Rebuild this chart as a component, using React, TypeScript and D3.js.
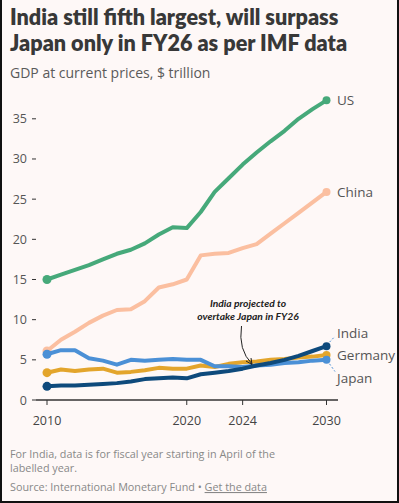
import React from "react";
import { scaleLinear, line } from "d3";

const years = [2010, 2011, 2012, 2013, 2014, 2015, 2016, 2017, 2018, 2019, 2020,
  2021, 2022, 2023, 2024, 2025, 2026, 2027, 2028, 2029, 2030];

const us = [15.0, 15.6, 16.2, 16.8, 17.5, 18.2, 18.7, 19.5, 20.6, 21.5, 21.4,
  23.4, 25.9, 27.6, 29.3, 30.8, 32.2, 33.5, 35.0, 36.2, 37.3];
const china = [6.1, 7.5, 8.5, 9.6, 10.5, 11.2, 11.3, 12.3, 14.0, 14.4, 15.0,
  18.0, 18.2, 18.3, 18.9, 19.4, 20.7, 22.0, 23.3, 24.6, 25.9];
const japan = [5.7, 6.2, 6.2, 5.2, 4.9, 4.4, 5.0, 4.9, 5.0, 5.1, 5.0,
  5.0, 4.2, 4.2, 4.1, 4.3, 4.4, 4.6, 4.7, 4.9, 5.0];
const germany = [3.4, 3.8, 3.6, 3.8, 3.9, 3.4, 3.5, 3.7, 4.0, 3.9, 3.9,
  4.3, 4.1, 4.5, 4.7, 4.8, 5.0, 5.1, 5.3, 5.4, 5.6];
const india = [1.7, 1.8, 1.8, 1.9, 2.0, 2.1, 2.3, 2.6, 2.7, 2.8, 2.7,
  3.2, 3.4, 3.6, 3.9, 4.3, 4.6, 5.0, 5.5, 6.1, 6.7];

const yTicks = [0, 5, 10, 15, 20, 25, 30, 35];
const xTicks = [2010, 2020, 2024, 2030];

const series = [
  { name: "China", values: china, color: "#fbbfa0", labelY: 25.9 },
  { name: "US", values: us, color: "#46a97a", labelY: 37.3 },
  { name: "Germany", values: germany, color: "#e3a52c", labelY: 5.6 },
  { name: "Japan", values: japan, color: "#4b90d6", labelY: 2.8 },
  { name: "India", values: india, color: "#0e4a7c", labelY: 8.3 },
];

const W = 399, H = 503;

export default function App() {
  const x = scaleLinear().domain([2010, 2030]).range([47, 326.5]);
  const y = scaleLinear().domain([0, 35]).range([400, 118.8]);
  const font = "'Open Sans', sans-serif";
  const mk = (vals: number[]) =>
    line<number>().x((_, i) => x(years[i])).y(d => y(d))(vals) || "";

  return (
    <div style={{ position: "fixed", left: 0, top: 0, width: W, height: H }}>
      <svg width={W} height={H} viewBox={`0 0 ${W} ${H}`} style={{ display: "block" }}>
        <rect x={0} y={0} width={W} height={H} fill="#fef8f7" />
        <text x={10} y={25} fontFamily="Lato, sans-serif" fontWeight={800} fontSize={21.6} fill="#383838">
          India still fifth largest, will surpass
        </text>
        <text x={10} y={51} fontFamily="Lato, sans-serif" fontWeight={800} fontSize={21.6} fill="#383838">
          Japan only in FY26 as per IMF data
        </text>
        <text x={10} y={78} fontFamily={font} fontSize={14} fill="#5a5a5a">
          GDP at current prices, $ trillion
        </text>

        {yTicks.map(t => (
          <g key={t}>
            <line x1={32} x2={36} y1={y(t)} y2={y(t)} stroke="#333" strokeWidth={1} />
            <text x={27} y={y(t) + 4.5} textAnchor="end" fontFamily={font} fontSize={12.5} fill="#555">{t}</text>
          </g>
        ))}
        <line x1={36} x2={338} y1={400} y2={400} stroke="#333" strokeWidth={1.5} />
        {xTicks.map(t => (
          <g key={t}>
            <line x1={x(t)} x2={x(t)} y1={400} y2={405} stroke="#333" strokeWidth={1} />
            <text x={x(t)} y={425} textAnchor="middle" fontFamily={font} fontSize={12.5} fill="#444">{t}</text>
          </g>
        ))}

        {series.map(s => (
          <g key={s.name}>
            <path d={mk(s.values)} fill="none" stroke={s.color} strokeWidth={4} strokeLinejoin="round" strokeLinecap="round" />
            <circle cx={x(2010)} cy={y(s.values[0])} r={4.5} fill={s.color} />
            <circle cx={x(2030)} cy={y(s.values[s.values.length - 1])} r={4} fill={s.color} />
            <text x={337} y={y(s.labelY) + 5} fontFamily={font} fontSize={13.5} fill="#555">{s.name}</text>
          </g>
        ))}

        <line x1={x(2030) + 3} y1={y(india[20]) - 4} x2={335} y2={y(8.3) + 3} stroke="#4b90d6" strokeWidth={1} strokeDasharray="2,2" />
        <line x1={x(2030) + 3} y1={y(japan[20]) + 4} x2={335} y2={y(2.8) - 6} stroke="#4b90d6" strokeWidth={1} strokeDasharray="2,2" />

        <text x={248} y={307} textAnchor="middle" fontFamily="Lato, sans-serif" fontStyle="italic" fontWeight={700} fontSize={10.3} fill="#222">
          India projected to
        </text>
        <text x={248} y={320} textAnchor="middle" fontFamily="Lato, sans-serif" fontStyle="italic" fontWeight={700} fontSize={10.3} fill="#222">
          overtake Japan in FY26
        </text>
        <path d="M241.5,326 Q238,350 252,364" fill="none" stroke="#222" strokeWidth={1} />
        <path d="M246,361 L252,364.5 L251,358" fill="none" stroke="#222" strokeWidth={1} />

        <text x={10} y={458} fontFamily={font} fontSize={10.8} fill="#888">
          For India, data is for fiscal year starting in April of the
        </text>
        <text x={10} y={472} fontFamily={font} fontSize={10.8} fill="#888">labelled year.</text>
        <text x={10} y={491} fontFamily={font} fontSize={10.8} fill="#888">
          Source: International Monetary Fund •{" "}
          <tspan textDecoration="underline" style={{ textDecoration: "underline" }}>Get the data</tspan>
        </text>

        <rect x={0} y={0} width={2} height={H} fill="#111" />
        <rect x={W - 2} y={0} width={2} height={H} fill="#111" />
        <rect x={0} y={H - 2} width={W} height={2} fill="#111" />
      </svg>
    </div>
  );
}
